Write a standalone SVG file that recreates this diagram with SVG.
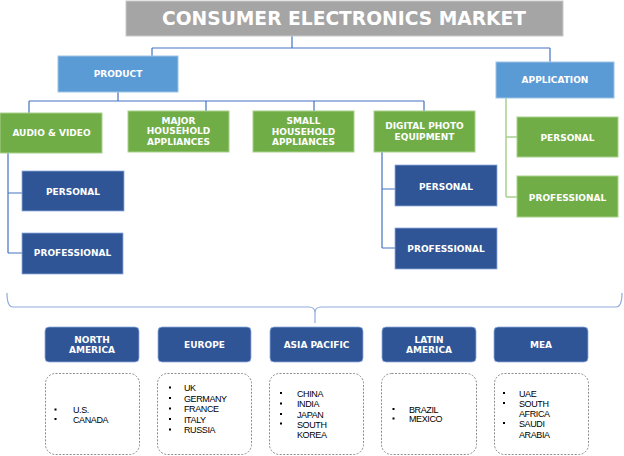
<svg xmlns="http://www.w3.org/2000/svg" width="624" height="456" viewBox="0 0 624 456">
<style>
.lbl{font-family:"DejaVu Sans",Verdana,sans-serif;font-weight:bold;font-size:9px;fill:#fff;text-anchor:middle}
.ttl{font-family:"DejaVu Sans",Verdana,sans-serif;font-weight:bold;font-size:20px;fill:#fff;text-anchor:middle}
.lst{font-family:"Liberation Sans",Arial,sans-serif;font-size:9px;letter-spacing:-0.4px;fill:#000}
.gray{fill:#a5a5a5;stroke:#c9c9c9;stroke-width:1}
.lb{fill:#5b9bd5;stroke:#9dc3e6;stroke-width:1}
.gr{fill:#70ad47;stroke:#a9d18e;stroke-width:1}
.db{fill:#2f5597;stroke:#8faadc;stroke-width:0.8}
.rg{fill:#2f5597;stroke:#8faadc;stroke-width:0.8}
.dash{fill:#fff;stroke:#7f7f7f;stroke-width:0.9;stroke-dasharray:2,1.5}
.con{fill:none;stroke:#4472c4;stroke-width:1.2}
.cong{fill:none;stroke:#a9d18e;stroke-width:1.5}
.brace{fill:none;stroke:#8faadc;stroke-width:1.2}
.bul{fill:#000}
</style>
<g id="connectors">
<path class="con" d="M292,36 V48 M152,48 H550 M152,48 V56 M550,48 V62"/>
<path class="con" d="M118,92 V101 M29,101 H424 M29,101 V113 M206,101 V111 M314,101 V111 M424,101 V111"/>
<path class="con" d="M8,153 V253 M8,193 H22 M8,253 H22"/>
<path class="con" d="M382,152 V248 M382,189 H395 M382,248 H395"/>
<path class="cong" d="M506,98 V197 M506,137 H517 M506,197 H517"/>
<path class="brace" d="M7,293 Q7,307 13,307 H309 Q315,307 315,313 Q315,307 321,307 H616 Q622,307 622,293 M315,313 V323"/>
</g>
<g id="title"><rect class="gray" x="126" y="1" width="437" height="35"/><text class="ttl" x="344" y="25" textLength="364" lengthAdjust="spacingAndGlyphs">CONSUMER ELECTRONICS MARKET</text></g>
<g id="product"><rect class="lb" x="58" y="56" width="120" height="36"/><text class="lbl" x="118" y="77">PRODUCT</text></g>
<g id="application"><rect class="lb" x="496" y="62" width="118" height="36"/><text class="lbl" x="555" y="83">APPLICATION</text></g>
<g id="audio-video"><rect class="gr" x="0" y="113" width="102" height="40"/><text class="lbl" x="51.5" y="135.5">AUDIO &amp; VIDEO</text></g>
<g id="major-household"><rect class="gr" x="128" y="111" width="101" height="41"/><text class="lbl" x="178.5" y="123.5">MAJOR</text><text class="lbl" x="178.5" y="134">HOUSEHOLD</text><text class="lbl" x="178.5" y="144.5">APPLIANCES</text></g>
<g id="small-household"><rect class="gr" x="253" y="111" width="101" height="41"/><text class="lbl" x="303.5" y="124">SMALL</text><text class="lbl" x="303.5" y="134.5">HOUSEHOLD</text><text class="lbl" x="303.5" y="145">APPLIANCES</text></g>
<g id="digital-photo"><rect class="gr" x="374" y="111" width="101" height="41"/><text class="lbl" x="424.5" y="129">DIGITAL PHOTO</text><text class="lbl" x="424.5" y="139.5">EQUIPMENT</text></g>
<g id="app-personal"><rect class="gr" x="517" y="117" width="101" height="40"/><text class="lbl" x="567.5" y="140.5">PERSONAL</text></g>
<g id="app-professional"><rect class="gr" x="517" y="176" width="101" height="41"/><text class="lbl" x="567.5" y="200.5">PROFESSIONAL</text></g>
<g id="av-personal"><rect class="db" x="22" y="171" width="102" height="40"/><text class="lbl" x="73" y="194.5">PERSONAL</text></g>
<g id="av-professional"><rect class="db" x="22" y="233" width="101" height="41"/><text class="lbl" x="72.5" y="255.5">PROFESSIONAL</text></g>
<g id="dp-personal"><rect class="db" x="395" y="165" width="102" height="41"/><text class="lbl" x="446" y="189.5">PERSONAL</text></g>
<g id="dp-professional"><rect class="db" x="395" y="228" width="102" height="41"/><text class="lbl" x="446" y="251.5">PROFESSIONAL</text></g>
<g id="north-america"><rect class="rg" x="45" y="327" width="94" height="35" rx="4"/><text class="lbl" x="92" y="342.5">NORTH</text><text class="lbl" x="92" y="352.5">AMERICA</text></g>
<g id="europe"><rect class="rg" x="158" y="327" width="93" height="35" rx="4"/><text class="lbl" x="204.5" y="347.5">EUROPE</text></g>
<g id="asia-pacific"><rect class="rg" x="270" y="327" width="93" height="35" rx="4"/><text class="lbl" x="316.5" y="347.5">ASIA PACIFIC</text></g>
<g id="latin-america"><rect class="rg" x="382" y="327" width="94" height="35" rx="4"/><text class="lbl" x="429" y="342.5">LATIN</text><text class="lbl" x="429" y="352.5">AMERICA</text></g>
<g id="mea"><rect class="rg" x="494" y="327" width="94" height="35" rx="4"/><text class="lbl" x="541" y="347.5">MEA</text></g>
<g id="na-list"><rect class="dash" x="45.5" y="373.5" width="94" height="81" rx="10"/>
<rect class="bul" x="54.5" y="408.5" width="2" height="2"/><rect class="bul" x="54.5" y="418" width="2" height="2"/>
<text class="lst" x="73" y="413">U.S.</text><text class="lst" x="73" y="422.5">CANADA</text></g>
<g id="europe-list"><rect class="dash" x="157.5" y="373.5" width="94" height="81" rx="10"/>
<rect class="bul" x="169" y="386.5" width="2" height="2"/><rect class="bul" x="169" y="397" width="2" height="2"/><rect class="bul" x="169" y="407.5" width="2" height="2"/><rect class="bul" x="169" y="418" width="2" height="2"/><rect class="bul" x="169" y="428.5" width="2" height="2"/>
<text class="lst" x="184" y="391">UK</text><text class="lst" x="184" y="401.5">GERMANY</text><text class="lst" x="184" y="412">FRANCE</text><text class="lst" x="184" y="422.5">ITALY</text><text class="lst" x="184" y="433">RUSSIA</text></g>
<g id="asia-list"><rect class="dash" x="269.5" y="373.5" width="94" height="81" rx="10"/>
<rect class="bul" x="280" y="392" width="2" height="2"/><rect class="bul" x="280" y="402.5" width="2" height="2"/><rect class="bul" x="280" y="413" width="2" height="2"/><rect class="bul" x="280" y="422.5" width="2" height="2"/>
<text class="lst" x="297" y="396.5">CHINA</text><text class="lst" x="297" y="407">INDIA</text><text class="lst" x="297" y="417.5">JAPAN</text><text class="lst" x="297" y="427.5">SOUTH</text><text class="lst" x="297" y="438">KOREA</text></g>
<g id="latin-list"><rect class="dash" x="381.5" y="373.5" width="95" height="81" rx="10"/>
<rect class="bul" x="392.5" y="408" width="2" height="2"/><rect class="bul" x="392.5" y="417.5" width="2" height="2"/>
<text class="lst" x="409" y="412.5">BRAZIL</text><text class="lst" x="409" y="422">MEXICO</text></g>
<g id="mea-list"><rect class="dash" x="494.5" y="373.5" width="94" height="81" rx="10"/>
<rect class="bul" x="503" y="392" width="2" height="2"/><rect class="bul" x="503" y="402" width="2" height="2"/><rect class="bul" x="503" y="422" width="2" height="2"/>
<text class="lst" x="519" y="396.5">UAE</text><text class="lst" x="519" y="406.5">SOUTH</text><text class="lst" x="519" y="417">AFRICA</text><text class="lst" x="519" y="427">SAUDI</text><text class="lst" x="519" y="437.5">ARABIA</text></g>
</svg>
